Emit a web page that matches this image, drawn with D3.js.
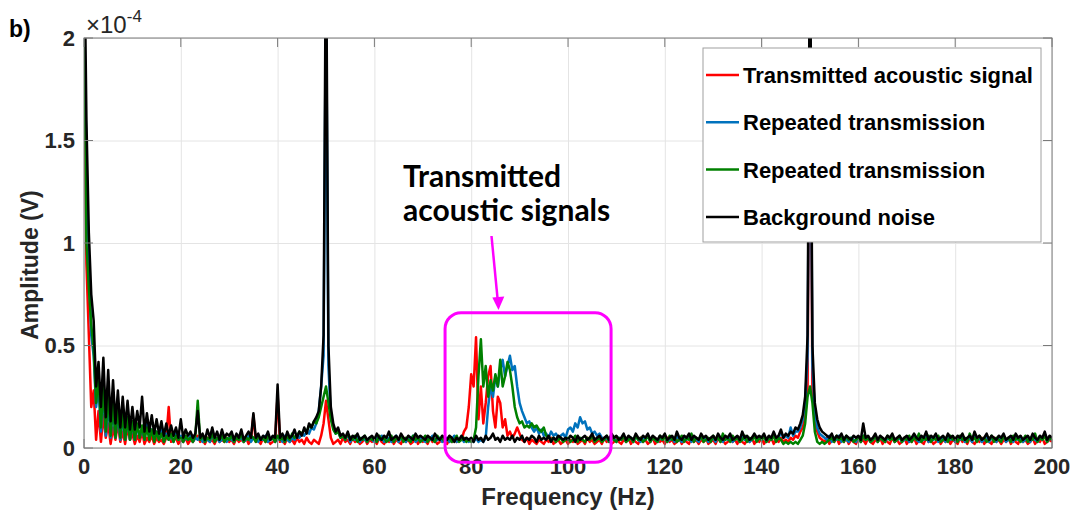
<!DOCTYPE html>
<html>
<head>
<meta charset="utf-8">
<script src="https://cdn.jsdelivr.net/npm/d3@7"></script>
<style>
  body { margin: 0; background: #fff; }
  text { font-family: "Liberation Sans", Arial, sans-serif; }
</style>
</head>
<body>
<svg id="chart"></svg>
<script>
// amplitudes are in units of 1e-4 V, one value every 0.5 Hz from 0 to 200 Hz
var freqStep = 0.5;
var freqs = d3.range(0, 200 + freqStep / 2, freqStep);

var xTicks = [0, 20, 40, 60, 80, 100, 120, 140, 160, 180, 200];
var yTicks = [0, 0.5, 1, 1.5, 2];
var yTickLabels = ["0", "0.5", "1", "1.5", "2"];

var seriesNames = ["Transmitted acoustic signal", "Repeated transmission", "Repeated transmission", "Background noise"];
var seriesColors = ["#ff0000", "#0072bd", "#008000", "#000000"];

// red
var txSignal = [
  2.3,0.9,0.55,0.2,0.28,0.04,0.18,0.03,0.16,0.05,0.12,0.02,0.1,0.04,0.12,0.03,0.08,0.02,0.1,0.04,      // 0
  0.07,0.02,0.06,0.03,0.08,0.02,0.05,0.03,0.06,0.02,0.05,0.03,0.04,0.02,0.05,0.2,0.03,0.04,0.05,0.02,  // 10
  0.04,0.03,0.05,0.02,0.04,0.03,0.05,0.06,0.03,0.04,0.02,0.05,0.03,0.04,0.02,0.05,0.03,0.04,0.03,0.05, // 20
  0.03,0.04,0.02,0.05,0.03,0.04,0.03,0.05,0.02,0.04,0.16,0.03,0.04,0.02,0.05,0.03,0.04,0.02,0.03,0.04, // 30
  0.26,0.03,0.04,0.02,0.05,0.03,0.04,0.02,0.05,0.03,0.04,0.02,0.05,0.03,0.02,0.04,0.03,0.02,0.06,0.12, // 40
  0.23,0.14,0.05,0.02,0.03,0.04,0.02,0.05,0.03,0.04,0.02,0.05,0.03,0.04,0.02,0.03,0.05,0.02,0.04,0.03, // 50
  0.04,0.02,0.05,0.03,0.02,0.04,0.03,0.05,0.02,0.04,0.03,0.02,0.05,0.03,0.04,0.02,0.03,0.05,0.02,0.04, // 60
  0.03,0.04,0.02,0.05,0.03,0.04,0.02,0.03,0.05,0.03,0.02,0.04,0.03,0.05,0.03,0.04,0.04,0.08,0.1,0.2,   // 70
  0.36,0.3,0.54,0.14,0.3,0.12,0.22,0.35,0.4,0.18,0.1,0.25,0.22,0.1,0.14,0.06,0.08,0.05,0.07,0.1,       // 80
  0.07,0.04,0.03,0.05,0.02,0.04,0.03,0.02,0.04,0.03,0.02,0.04,0.03,0.05,0.02,0.03,0.04,0.02,0.03,0.04, // 90
  0.02,0.04,0.03,0.05,0.02,0.03,0.04,0.02,0.05,0.03,0.04,0.02,0.03,0.04,0.02,0.05,0.03,0.04,0.02,0.03, // 100
  0.05,0.03,0.02,0.04,0.03,0.05,0.02,0.04,0.03,0.02,0.05,0.03,0.04,0.02,0.03,0.05,0.02,0.04,0.03,0.04, // 110
  0.02,0.05,0.03,0.04,0.02,0.03,0.05,0.02,0.04,0.03,0.02,0.05,0.03,0.04,0.02,0.04,0.03,0.05,0.02,0.03, // 120
  0.04,0.02,0.05,0.03,0.04,0.02,0.03,0.05,0.03,0.04,0.02,0.05,0.03,0.02,0.04,0.03,0.05,0.02,0.04,0.03, // 130
  0.05,0.02,0.04,0.03,0.05,0.02,0.04,0.03,0.05,0.03,0.04,0.03,0.05,0.04,0.06,0.05,0.08,0.1,0.15,0.3,   // 140
  2.2,0.28,0.12,0.08,0.05,0.04,0.03,0.05,0.02,0.04,0.03,0.05,0.02,0.04,0.03,0.05,0.02,0.04,0.03,0.02,  // 150
  0.05,0.03,0.04,0.02,0.05,0.03,0.02,0.04,0.03,0.05,0.02,0.04,0.03,0.02,0.05,0.03,0.04,0.02,0.03,0.05, // 160
  0.02,0.04,0.03,0.05,0.02,0.04,0.03,0.02,0.05,0.03,0.04,0.02,0.03,0.05,0.02,0.04,0.03,0.05,0.02,0.04, // 170
  0.03,0.02,0.05,0.03,0.04,0.02,0.05,0.03,0.02,0.04,0.03,0.05,0.02,0.04,0.03,0.02,0.05,0.03,0.04,0.02, // 180
  0.04,0.03,0.05,0.02,0.04,0.03,0.02,0.05,0.03,0.04,0.02,0.03,0.05,0.02,0.04,0.03,0.05,0.02,0.03,0.04, // 190
  0.03
];

// blue
var repeat1 = [
  2.2,1.4,0.9,0.55,0.45,0.2,0.3,0.08,0.28,0.06,0.22,0.05,0.2,0.05,0.17,0.04,0.15,0.04,0.14,0.04,       // 0
  0.12,0.04,0.11,0.05,0.1,0.04,0.13,0.05,0.09,0.04,0.08,0.04,0.09,0.03,0.07,0.04,0.06,0.03,0.07,0.04,  // 10
  0.06,0.03,0.05,0.04,0.06,0.03,0.05,0.04,0.06,0.03,0.05,0.04,0.03,0.06,0.04,0.05,0.03,0.04,0.06,0.03, // 20
  0.05,0.04,0.03,0.06,0.04,0.05,0.03,0.04,0.06,0.03,0.05,0.04,0.03,0.05,0.04,0.06,0.03,0.04,0.05,0.03, // 30
  0.04,0.05,0.03,0.06,0.04,0.03,0.05,0.04,0.06,0.05,0.07,0.06,0.08,0.07,0.1,0.09,0.12,0.18,0.3,0.45,   // 40
  2.3,0.4,0.15,0.1,0.07,0.08,0.05,0.06,0.04,0.07,0.03,0.05,0.04,0.06,0.03,0.05,0.04,0.03,0.05,0.04,    // 50
  0.03,0.05,0.04,0.06,0.03,0.04,0.05,0.03,0.04,0.06,0.03,0.05,0.04,0.03,0.05,0.04,0.06,0.03,0.04,0.05, // 60
  0.04,0.03,0.05,0.04,0.06,0.03,0.04,0.05,0.03,0.04,0.05,0.03,0.04,0.06,0.03,0.04,0.05,0.03,0.04,0.03, // 70
  0.04,0.03,0.05,0.03,0.04,0.03,0.05,0.2,0.3,0.25,0.35,0.3,0.38,0.43,0.35,0.4,0.45,0.38,0.4,0.3,       // 80
  0.22,0.18,0.15,0.12,0.13,0.1,0.08,0.1,0.07,0.09,0.06,0.07,0.05,0.08,0.06,0.07,0.05,0.06,0.07,0.05,   // 90
  0.09,0.1,0.08,0.12,0.1,0.15,0.12,0.13,0.09,0.1,0.07,0.08,0.06,0.07,0.05,0.04,0.05,0.03,0.04,0.05,    // 100
  0.03,0.05,0.04,0.06,0.03,0.04,0.05,0.03,0.06,0.04,0.03,0.05,0.04,0.06,0.03,0.05,0.04,0.03,0.05,0.04, // 110
  0.06,0.03,0.04,0.05,0.03,0.06,0.04,0.03,0.05,0.04,0.06,0.03,0.05,0.04,0.03,0.06,0.04,0.05,0.03,0.04, // 120
  0.05,0.03,0.06,0.04,0.03,0.05,0.04,0.06,0.03,0.04,0.05,0.03,0.07,0.04,0.05,0.03,0.04,0.06,0.04,0.05, // 130
  0.04,0.06,0.03,0.05,0.04,0.07,0.04,0.05,0.08,0.05,0.06,0.05,0.1,0.06,0.08,0.08,0.1,0.14,0.22,0.45,   // 140
  2.3,0.4,0.18,0.1,0.07,0.06,0.05,0.04,0.06,0.03,0.05,0.04,0.06,0.03,0.05,0.04,0.03,0.05,0.04,0.03,    // 150
  0.05,0.03,0.06,0.04,0.05,0.03,0.04,0.06,0.03,0.05,0.04,0.03,0.05,0.04,0.06,0.03,0.04,0.05,0.03,0.04, // 160
  0.05,0.03,0.04,0.06,0.04,0.03,0.05,0.04,0.07,0.03,0.05,0.04,0.06,0.03,0.04,0.05,0.03,0.06,0.04,0.05, // 170
  0.03,0.05,0.04,0.06,0.03,0.04,0.05,0.03,0.07,0.04,0.05,0.03,0.04,0.06,0.03,0.05,0.04,0.03,0.05,0.04, // 180
  0.06,0.03,0.04,0.05,0.03,0.06,0.04,0.05,0.03,0.04,0.05,0.03,0.06,0.04,0.03,0.05,0.04,0.07,0.03,0.05, // 190
  0.04
];

// green
var repeat2 = [
  2.2,1.0,0.78,0.6,0.48,0.22,0.35,0.1,0.3,0.08,0.27,0.06,0.22,0.05,0.2,0.05,0.17,0.04,0.15,0.04,       // 0
  0.13,0.04,0.12,0.05,0.11,0.04,0.1,0.04,0.09,0.03,0.08,0.04,0.07,0.03,0.06,0.04,0.07,0.03,0.06,0.04,  // 10
  0.05,0.03,0.06,0.04,0.05,0.03,0.06,0.23,0.04,0.06,0.03,0.05,0.04,0.07,0.03,0.05,0.04,0.06,0.03,0.05, // 20
  0.04,0.06,0.03,0.05,0.04,0.07,0.03,0.05,0.04,0.06,0.05,0.03,0.06,0.04,0.05,0.03,0.06,0.04,0.05,0.03, // 30
  0.06,0.04,0.05,0.03,0.06,0.04,0.07,0.05,0.06,0.08,0.07,0.09,0.08,0.11,0.1,0.13,0.12,0.15,0.2,0.25,   // 40
  0.3,0.22,0.14,0.09,0.07,0.08,0.05,0.06,0.04,0.07,0.05,0.04,0.06,0.03,0.05,0.04,0.06,0.03,0.05,0.04,  // 50
  0.05,0.03,0.06,0.04,0.05,0.03,0.04,0.06,0.03,0.05,0.04,0.06,0.03,0.05,0.04,0.03,0.06,0.04,0.05,0.03, // 60
  0.04,0.06,0.03,0.05,0.04,0.03,0.06,0.04,0.05,0.03,0.04,0.05,0.03,0.04,0.06,0.03,0.04,0.05,0.03,0.04, // 70
  0.03,0.04,0.1,0.35,0.53,0.3,0.4,0.25,0.33,0.28,0.36,0.3,0.43,0.3,0.35,0.42,0.38,0.3,0.2,0.15,        // 80
  0.12,0.13,0.1,0.11,0.1,0.12,0.1,0.11,0.09,0.08,0.1,0.06,0.05,0.04,0.05,0.03,0.04,0.05,0.03,0.04,     // 90
  0.05,0.03,0.04,0.06,0.03,0.05,0.04,0.03,0.05,0.04,0.06,0.03,0.04,0.05,0.03,0.04,0.06,0.03,0.05,0.04, // 100
  0.03,0.05,0.04,0.06,0.03,0.04,0.05,0.03,0.06,0.04,0.05,0.03,0.04,0.06,0.03,0.05,0.04,0.03,0.06,0.04, // 110
  0.05,0.03,0.06,0.04,0.05,0.03,0.04,0.06,0.03,0.05,0.04,0.07,0.03,0.05,0.04,0.06,0.03,0.04,0.05,0.03, // 120
  0.06,0.04,0.05,0.03,0.07,0.04,0.05,0.03,0.06,0.04,0.05,0.03,0.04,0.06,0.03,0.05,0.04,0.06,0.03,0.05, // 130
  0.04,0.06,0.03,0.05,0.04,0.06,0.03,0.05,0.04,0.02,0.03,0.02,0.03,0.02,0.03,0.02,0.04,0.06,0.12,0.25, // 140
  0.3,0.22,0.08,0.03,0.02,0.03,0.02,0.03,0.04,0.05,0.03,0.06,0.04,0.05,0.03,0.06,0.04,0.05,0.03,0.04,  // 150
  0.05,0.03,0.06,0.04,0.05,0.03,0.04,0.06,0.03,0.05,0.04,0.03,0.06,0.04,0.05,0.03,0.04,0.06,0.03,0.05, // 160
  0.04,0.06,0.03,0.05,0.04,0.07,0.03,0.05,0.04,0.06,0.03,0.05,0.04,0.06,0.03,0.04,0.05,0.03,0.06,0.04, // 170
  0.05,0.03,0.06,0.04,0.05,0.03,0.07,0.04,0.05,0.03,0.06,0.04,0.05,0.03,0.04,0.06,0.03,0.05,0.04,0.03, // 180
  0.06,0.04,0.05,0.03,0.06,0.04,0.05,0.03,0.04,0.06,0.03,0.05,0.04,0.07,0.03,0.05,0.04,0.06,0.03,0.05, // 190
  0.04
];

// black
var noise = [
  2.6,1.6,1.05,0.75,0.62,0.3,0.42,0.2,0.44,0.15,0.38,0.13,0.33,0.12,0.28,0.1,0.25,0.1,0.23,0.09,       // 0
  0.2,0.09,0.18,0.1,0.25,0.08,0.17,0.08,0.16,0.07,0.14,0.07,0.13,0.06,0.12,0.06,0.11,0.06,0.1,0.05,     // 10
  0.14,0.05,0.09,0.06,0.08,0.05,0.07,0.18,0.05,0.07,0.04,0.09,0.05,0.1,0.05,0.08,0.04,0.09,0.05,0.07,  // 20
  0.06,0.08,0.04,0.07,0.05,0.09,0.04,0.06,0.08,0.05,0.17,0.05,0.07,0.04,0.06,0.05,0.08,0.04,0.06,0.05, // 30
  0.31,0.05,0.07,0.04,0.08,0.05,0.06,0.09,0.05,0.08,0.06,0.1,0.07,0.12,0.1,0.13,0.15,0.18,0.3,0.55,    // 40
  2.6,0.5,0.2,0.12,0.08,0.1,0.06,0.07,0.05,0.08,0.04,0.06,0.05,0.07,0.04,0.05,0.06,0.04,0.05,0.06,     // 50
  0.04,0.07,0.05,0.04,0.06,0.05,0.08,0.04,0.05,0.06,0.04,0.07,0.05,0.04,0.06,0.05,0.04,0.07,0.05,0.06, // 60
  0.05,0.04,0.06,0.05,0.04,0.07,0.05,0.04,0.06,0.05,0.04,0.06,0.05,0.03,0.05,0.04,0.06,0.04,0.05,0.04, // 70
  0.05,0.03,0.06,0.04,0.05,0.03,0.06,0.04,0.05,0.07,0.04,0.05,0.03,0.06,0.04,0.05,0.04,0.06,0.03,0.05, // 80
  0.04,0.06,0.03,0.05,0.04,0.06,0.05,0.03,0.06,0.04,0.05,0.04,0.06,0.03,0.05,0.04,0.06,0.05,0.04,0.05, // 90
  0.04,0.06,0.05,0.03,0.06,0.04,0.05,0.06,0.04,0.05,0.07,0.04,0.05,0.06,0.04,0.05,0.06,0.04,0.07,0.05, // 100
  0.06,0.04,0.05,0.07,0.04,0.06,0.05,0.04,0.07,0.05,0.04,0.06,0.05,0.07,0.04,0.06,0.05,0.04,0.06,0.05, // 110
  0.07,0.04,0.05,0.06,0.04,0.08,0.05,0.04,0.06,0.05,0.07,0.04,0.06,0.05,0.04,0.07,0.05,0.06,0.04,0.05, // 120
  0.06,0.04,0.07,0.05,0.04,0.06,0.05,0.07,0.04,0.05,0.06,0.04,0.08,0.05,0.06,0.04,0.05,0.07,0.05,0.06, // 130
  0.05,0.07,0.04,0.06,0.05,0.08,0.05,0.06,0.09,0.05,0.07,0.06,0.08,0.07,0.1,0.09,0.12,0.16,0.25,0.55,  // 140
  2.6,0.5,0.22,0.14,0.1,0.08,0.07,0.06,0.05,0.07,0.04,0.06,0.05,0.07,0.04,0.06,0.05,0.04,0.06,0.05,    // 150
  0.06,0.04,0.12,0.05,0.06,0.04,0.05,0.07,0.04,0.06,0.05,0.04,0.06,0.05,0.07,0.04,0.05,0.06,0.04,0.05, // 160
  0.06,0.04,0.05,0.07,0.05,0.04,0.06,0.05,0.08,0.04,0.06,0.05,0.07,0.04,0.05,0.06,0.04,0.07,0.05,0.06, // 170
  0.04,0.06,0.05,0.07,0.04,0.05,0.06,0.04,0.08,0.05,0.06,0.04,0.05,0.07,0.04,0.06,0.05,0.04,0.06,0.05, // 180
  0.07,0.04,0.05,0.06,0.04,0.07,0.05,0.06,0.04,0.05,0.06,0.04,0.07,0.05,0.04,0.06,0.05,0.08,0.04,0.06, // 190
  0.05
];

var margin = {top: 38, right: 23, bottom: 67, left: 84},
    width = 1075 - margin.left - margin.right,
    height = 515 - margin.top - margin.bottom;

var x = d3.scaleLinear().domain([0, 200]).range([0, width]);
var y = d3.scaleLinear().domain([0, 2]).range([height, 0]);

var svg = d3.select("#chart")
    .attr("width", width + margin.left + margin.right)
    .attr("height", height + margin.top + margin.bottom);

var g = svg.append("g")
    .attr("transform", "translate(" + margin.left + "," + margin.top + ")");

// grid
g.append("g")
    .attr("transform", "translate(0," + height + ")")
    .call(d3.axisBottom(x).tickValues(xTicks).tickSize(-height).tickFormat(""))
    .call(function(s) { s.select(".domain").remove(); })
    .selectAll("line").attr("stroke", "#e4e4e4");
g.append("g")
    .call(d3.axisLeft(y).tickValues(yTicks).tickSize(-width).tickFormat(""))
    .call(function(s) { s.select(".domain").remove(); })
    .selectAll("line").attr("stroke", "#e4e4e4");

// clip the spectra to the axes box
g.append("clipPath").attr("id", "plotClip")
  .append("rect").attr("width", width).attr("height", height);

var valueline = d3.line()
    .x(function(d, i) { return x(freqs[i]); })
    .y(function(d) { return y(d); });

var allSeries = [txSignal, repeat1, repeat2, noise];

g.append("g").attr("clip-path", "url(#plotClip)")
  .selectAll("path")
  .data(allSeries)
  .enter().append("path")
    .attr("fill", "none")
    .attr("stroke", function(d, i) { return seriesColors[i]; })
    .attr("stroke-width", 2.5)
    .attr("stroke-linejoin", "round")
    .attr("d", valueline);

// box and inward ticks (matlab style)
var axisColor = "#7a7a7a";
g.append("rect")
    .attr("width", width).attr("height", height)
    .attr("fill", "none").attr("stroke", axisColor).attr("stroke-width", 1);

var tickLen = 9;
[["bottom", height, -1], ["top", 0, 1]].forEach(function(side) {
  g.append("g").selectAll("line").data(xTicks).enter().append("line")
      .attr("x1", function(d) { return x(d); }).attr("x2", function(d) { return x(d); })
      .attr("y1", side[1]).attr("y2", side[1] + side[2] * tickLen)
      .attr("stroke", axisColor);
});
[["left", 0, 1], ["right", width, -1]].forEach(function(side) {
  g.append("g").selectAll("line").data(yTicks).enter().append("line")
      .attr("y1", function(d) { return y(d); }).attr("y2", function(d) { return y(d); })
      .attr("x1", side[1]).attr("x2", side[1] + side[2] * tickLen)
      .attr("stroke", axisColor);
});

// tick labels
g.append("g").selectAll("text").data(xTicks).enter().append("text")
    .attr("x", function(d) { return x(d); })
    .attr("y", height + 26)
    .attr("text-anchor", "middle")
    .style("font-size", "22px").style("font-weight", "bold").attr("fill", "#262626")
    .text(function(d) { return d; });

g.append("g").selectAll("text").data(yTicks).enter().append("text")
    .attr("x", -9)
    .attr("y", function(d) { return y(d); })
    .attr("dy", "0.36em")
    .attr("text-anchor", "end")
    .style("font-size", "22px").style("font-weight", "bold").attr("fill", "#262626")
    .text(function(d, i) { return yTickLabels[i]; });

// exponent label
var expo = g.append("text")
    .attr("x", 2).attr("y", -5)
    .style("font-size", "24px").attr("fill", "#262626");
expo.append("tspan").text("\u00d710");
expo.append("tspan").attr("dy", -11).style("font-size", "17px").text("-4");

// axis titles
g.append("text")
    .attr("x", width / 2).attr("y", height + 57)
    .attr("text-anchor", "middle")
    .style("font-size", "24px").style("font-weight", "bold").attr("fill", "#262626")
    .text("Frequency (Hz)");

g.append("text")
    .attr("transform", "translate(" + (-46) + "," + (height / 2 + 22) + ") rotate(-90)")
    .attr("text-anchor", "middle")
    .style("font-size", "23px").style("font-weight", "bold").attr("fill", "#262626")
    .text("Amplitude (V)");

// panel letter
svg.append("text")
    .attr("x", 9).attr("y", 37)
    .style("font-size", "23px").style("font-weight", "bold")
    .text("b)");

// legend
var legend = g.append("g").attr("transform", "translate(" + (703 - margin.left) + "," + (48 - margin.top) + ")");
legend.append("rect")
    .attr("width", 338).attr("height", 194)
    .attr("fill", "#fff").attr("stroke", "#a0a0a0");
var rows = legend.selectAll(".row").data(seriesNames).enter().append("g")
    .attr("transform", function(d, i) { return "translate(0," + (27 + i * 47.3) + ")"; });
rows.append("line")
    .attr("x1", 3).attr("x2", 36)
    .attr("stroke", function(d, i) { return seriesColors[i]; })
    .attr("stroke-width", 2.5);
rows.append("text")
    .attr("x", 40).attr("dy", "0.36em")
    .style("font-size", "22px").style("font-weight", "bold")
    .text(function(d) { return d; });

// annotation
var magenta = "#ff00ff";
var note = g.append("text")
    .attr("x", 403 - margin.left).attr("y", 187 - margin.top)
    .style("font-family", "Lato, 'Open Sans', sans-serif")
    .style("font-size", "30px").style("font-weight", "bold");
note.append("tspan").text("Transmitted");
note.append("tspan").attr("x", 403 - margin.left).attr("dy", 34).text("acoustic signals");

g.append("rect")
    .attr("x", x(74.6)).attr("y", y(0.66))
    .attr("width", x(108.9) - x(74.6)).attr("height", y(-0.07) - y(0.66))
    .attr("rx", 16).attr("ry", 16)
    .attr("fill", "none").attr("stroke", magenta).attr("stroke-width", 3);

var tip = [498.5 - margin.left, 310 - margin.top];
g.append("line")
    .attr("x1", 491.5 - margin.left).attr("y1", 236 - margin.top)
    .attr("x2", tip[0] - 0.9).attr("y2", tip[1] - 11)
    .attr("stroke", magenta).attr("stroke-width", 2.5);
g.append("path")
    .attr("d", "M" + tip[0] + "," + tip[1] + " l-6.2,-12.5 l12,-1 z")
    .attr("fill", magenta);
</script>
</body>
</html>
